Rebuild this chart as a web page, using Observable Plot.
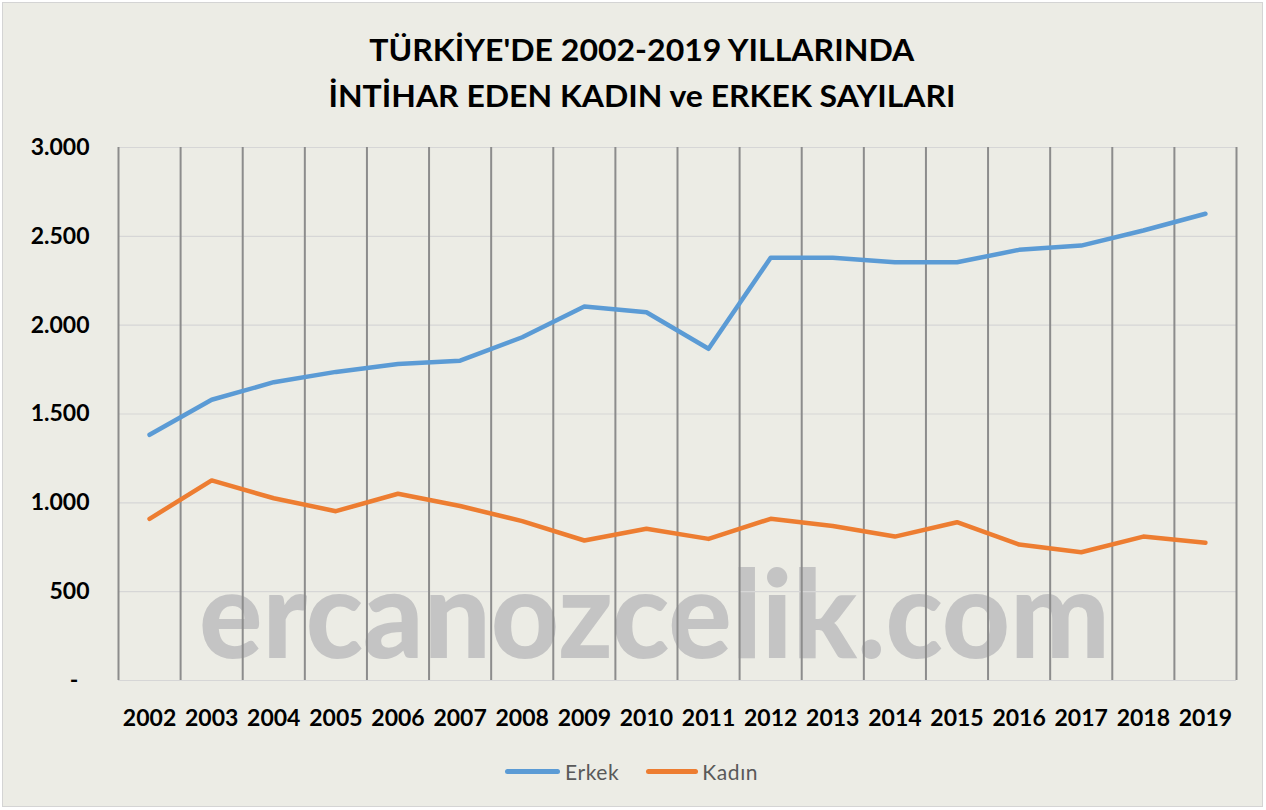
<!DOCTYPE html>
<html>
<head>
<meta charset="utf-8">
<script src="https://cdn.jsdelivr.net/npm/d3@7"></script>
<script src="https://cdn.jsdelivr.net/npm/@observablehq/plot@0.6"></script>
<style>
  html, body { margin: 0; padding: 0; background: #ffffff; }
  #wrap { position: relative; width: 1266px; height: 810px; overflow: hidden; font-family: Lato, "Open Sans", sans-serif; }
  #box { position: absolute; left: 2px; top: 2px; width: 1261px; height: 805px; box-sizing: border-box;
         background: #ECECE5; border: 1px solid #D4D4D4; }
  .tline { position: absolute; left: 0; width: 1284px; text-align: center; font-weight: bold;
           font-size: 31px; line-height: 31px; color: #000; white-space: nowrap; }
  .tline span { display: inline-block; transform-origin: center center; }
  #chart { position: absolute; left: 0; top: 120px; }
  #legend { position: absolute; left: 505px; top: 758px; height: 26px; display: flex; align-items: center;
            font-size: 21px; color: #595959; letter-spacing: 0.6px; }
  .sw { display: inline-block; height: 5px; border-radius: 3px; }
</style>
</head>
<body>
<div id="wrap">
  <div id="box"></div>
  <div class="tline" id="t1" style="top:34px"><span>TÜRKİYE'DE 2002-2019 YILLARINDA</span></div>
  <div class="tline" id="t2" style="top:80px"><span>İNTİHAR EDEN KADIN ve ERKEK SAYILARI</span></div>
  <div id="chart"></div>
  <div id="legend">
    <span class="sw" style="width:55px;background:#5B9BD5"></span>
    <span style="margin-left:5px">Erkek</span>
    <span class="sw" style="width:52px;background:#ED7D31;margin-left:27px"></span>
    <span style="margin-left:4px">Kadın</span>
  </div>
</div>
<script>
const years = [2002, 2003, 2004, 2005, 2006, 2007, 2008, 2009, 2010, 2011, 2012, 2013, 2014, 2015, 2016, 2017, 2018, 2019];
const erkek = [1383, 1580, 1679, 1737, 1781, 1800, 1932, 2105, 2073, 1867, 2379, 2379, 2354, 2354, 2424, 2448, 2533, 2627];
const kadin = [910, 1126, 1026, 953, 1051, 982, 897, 788, 854, 797, 910, 870, 810, 891, 765, 722, 810, 775];
const yTicks = [0, 500, 1000, 1500, 2000, 2500, 3000];
const watermark = "ercanozcelik.com";

const erkekData = years.map((y, i) => ({year: y, value: erkek[i]}));
const kadinData = years.map((y, i) => ({year: y, value: kadin[i]}));
const boundaries = years.map(y => y - 0.5).concat([years[years.length - 1] + 0.5]);

const loc = d3.formatLocale({decimal: ",", thousands: ".", grouping: [3], currency: ["", ""]});
const fmt = loc.format(",");
const yFormat = d => d === 0 ? "-\u00a0\u00a0" : fmt(d);

const plot = Plot.plot({
  width: 1266,
  height: 620,
  marginLeft: 118,
  marginRight: 30,
  marginTop: 27,
  marginBottom: 60,
  style: {background: "transparent", fontFamily: "Lato, 'Open Sans', sans-serif", fontSize: "23px", fontWeight: "bold", color: "#000", overflow: "visible"},
  x: {type: "linear", domain: [years[0] - 0.5, years[years.length - 1] + 0.5]},
  y: {domain: [yTicks[0], yTicks[yTicks.length - 1]]},
  marks: [
    Plot.text([watermark], {frameAnchor: "bottom", lineAnchor: "middle", text: d => d, dx: -23, dy: -62, fontSize: 122, fontWeight: 900, fill: "#C4C4C4", className: "wm"}),
    Plot.ruleY(yTicks, {stroke: "#D6D6D6", strokeWidth: 1.2}),
    Plot.ruleX(boundaries, {stroke: "#8C8C8C", strokeWidth: 2}),
    Plot.axisY({ticks: yTicks, tickFormat: yFormat, tickSize: 0, tickPadding: 29, label: null, fill: "#000"}),
    Plot.axisX({ticks: years, tickFormat: d => String(d), tickSize: 0, tickPadding: 29, label: null, fill: "#000"}),
    Plot.line(erkekData, {x: "year", y: "value", stroke: "#5B9BD5", strokeWidth: 4.5, strokeLinecap: "round", strokeLinejoin: "round"}),
    Plot.line(kadinData, {x: "year", y: "value", stroke: "#ED7D31", strokeWidth: 4.5, strokeLinecap: "round", strokeLinejoin: "round"})
  ]
});
document.getElementById("chart").appendChild(plot);

// stretch watermark to its width in the reference
d3.select(plot).selectAll("g.wm text").attr("textLength", 911).attr("lengthAdjust", "spacingAndGlyphs");

// fit title lines to their widths
function fit(id, w) {
  const s = document.querySelector("#" + id + " span");
  const r = s.getBoundingClientRect().width;
  if (r > 0) s.style.transform = "scaleX(" + (w / r) + ")";
}
fit("t1", 545);
fit("t2", 627);
</script>
</body>
</html>
